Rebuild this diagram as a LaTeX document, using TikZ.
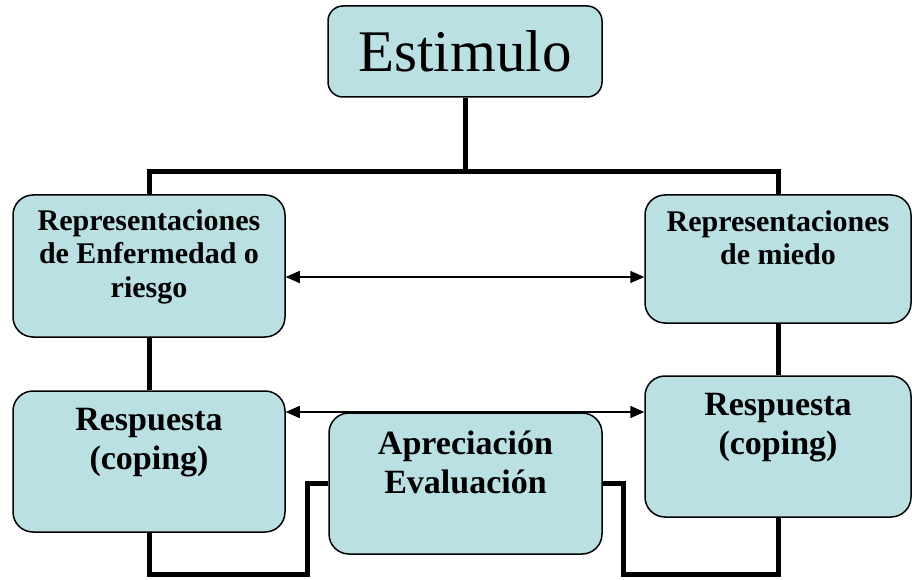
\documentclass[tikz,border=0pt]{standalone}
\usepackage{fontspec}
\setmainfont{Liberation Serif}
\usepackage{tikz}
\usetikzlibrary{positioning, arrows.meta, calc}
\definecolor{paleteal}{RGB}{187,224,227}

\begin{document}
\begin{tikzpicture}[x=1pt, y=1pt,
  box/.style={draw, line width=1.5pt, fill=paleteal, rounded corners=20pt, inner sep=0pt},
  txt/.style={inner sep=0pt, align=center, font=\fontsize{30}{33.5}\selectfont\bfseries},
  bigtxt/.style={inner sep=0pt, align=center, font=\fontsize{34}{38.5}\selectfont\bfseries},
  link/.style={line width=5pt},
  twoway/.style={line width=1.5pt, {Triangle[length=14pt,width=12pt]}-{Triangle[length=14pt,width=12pt]}}]
\useasboundingbox (0,0) rectangle (912,579);

\node [box, rounded corners=15pt, minimum width=274pt, minimum height=91pt,
  font=\fontsize{59}{60}\selectfont] (est) at (465,527.5) {Estimulo};

\node [box, minimum width=272pt, minimum height=142pt] (lrep) at (149,313) {};
\node [box, minimum width=266pt, minimum height=128pt] (rrep) at (778,320) {};
\node [box, minimum width=272pt, minimum height=141pt] (lresp) at (149,117.5) {};
\node [box, minimum width=266pt, minimum height=141pt] (rresp) at (778,132.5) {};
\node [box, minimum width=273pt, minimum height=141pt] (apr) at (465.5,95.5) {};

\node [txt, below=15pt of lrep.north] (lreptxt) {Representaciones\\de Enfermedad o\\riesgo};
\node [txt, below=16pt of rrep.north] (rreptxt) {Representaciones\\de miedo};
\node [bigtxt, below=18pt of lresp.north] (lresptxt) {Respuesta\\(coping)};
\node [bigtxt, below=18pt of rresp.north] (rresptxt) {Respuesta\\(coping)};
\node [bigtxt, below=18.5pt of apr.north] (aprtxt) {Apreciación\\Evaluación};

\coordinate (bar) at (465,407);
\coordinate (toparr) at (465,302);
\coordinate (lowarr) at (465,167);
\coordinate (lbot) at (307,5);
\coordinate (rbot) at (623,5);

\draw [link] (est.south) -- (bar);
\draw [link] (lrep.north) |- (bar) -| (rrep.north);
\draw [link] (lrep.south) -- (lresp.north);
\draw [link] (rrep.south) -- (rresp.north);
\draw [link] (lresp.south) |- (lbot) |- (apr.west);
\draw [link] (apr.east) -| (rbot) -| (rresp.south);

\draw [twoway] (lrep.east |- toparr) -- (rrep.west |- toparr);
\draw [twoway] (lresp.east |- lowarr) -- (rresp.west |- lowarr);
\end{tikzpicture}
\end{document}
